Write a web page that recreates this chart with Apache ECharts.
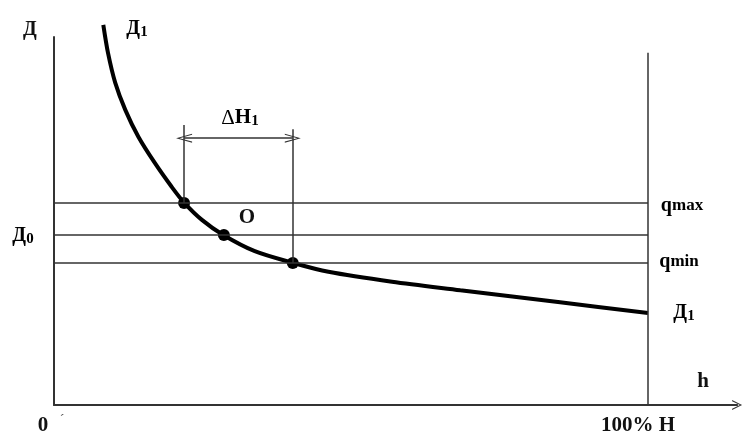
<!DOCTYPE html>
<html>
<head>
<meta charset="utf-8">
<script src="https://cdn.jsdelivr.net/npm/echarts@6/dist/echarts.min.js"></script>
<style>
  html,body{margin:0;padding:0;background:#fff;}
  #main{width:743px;height:439px;}
</style>
</head>
<body>
<div id="main"></div>
<script>
// curve Д1 (h in % of H, Д in arbitrary units)
var curveX = [8.3, 9.1, 10.3, 12.0, 14.2, 17.0, 19.8, 21.9, 24.9, 28.5, 33.8, 40.3, 46.2, 56.9, 68.4, 85.2, 100];
var curveY = [103.3, 95.6, 87.6, 80.2, 72.9, 65.7, 59.3, 55.0, 50.3, 46.2, 41.8, 38.6, 36.2, 33.5, 31.2, 27.9, 25.0];
// levels qmax, Д0, qmin
var levelY = [54.9, 46.2, 38.6];
// intersection points
var dotX = [21.9, 28.6, 40.2];
var dotY = [54.9, 46.2, 38.6];
// ΔH1 bracket
var bracketX = [21.9, 40.2];
var bracketTop = [76.1, 74.9];
var bracketY = 72.5;
// right border at 100% H
var fullH = 100;
var fullHTop = 95.7;

var ink = "#111";
var serif = "Liberation Serif";
var chevron = "path://M0,10 L5,0 L10,10 L8.8,10 L5,2.2 L1.2,10 Z";

var curveData = curveX.map(function(x, i){ return [x, curveY[i]]; });
var dotData = dotX.map(function(x, i){ return [x, dotY[i]]; });

var lines = [];
levelY.forEach(function(y){
	lines.push([{coord:[0, y]}, {coord:[fullH, y]}]);
});
lines.push([{coord:[bracketX[0], dotY[0]]}, {coord:[bracketX[0], bracketTop[0]]}]);
lines.push([{coord:[bracketX[1], dotY[2]]}, {coord:[bracketX[1], bracketTop[1]]}]);
lines.push([{coord:[fullH, 0]}, {coord:[fullH, fullHTop]}]);

var bigD = {a:{fontFamily:serif, fontWeight:"bold", fontSize:20, color:ink},
	s:{fontFamily:serif, fontWeight:"bold", fontSize:15, color:ink, padding:[6,0,0,0]}};
var qRich = {a:{fontFamily:serif, fontWeight:"bold", fontSize:20, color:ink},
	s:{fontFamily:serif, fontWeight:"bold", fontSize:17, color:ink}};
var dhRich = {d:{fontFamily:serif, fontSize:21, color:ink},
	a:{fontFamily:serif, fontWeight:"bold", fontSize:21, color:ink},
	s:{fontFamily:serif, fontWeight:"bold", fontSize:15, color:ink, padding:[6,0,0,0]}};
function plain(x, y, text, size){
	return {type:"text", x:x, y:y, style:{text:text, font:"bold " + size + "px '" + serif + "'", fill:ink, align:"center", verticalAlign:"middle"}};
}
function rich(x, y, text, r){
	return {type:"text", x:x, y:y, style:{text:text, rich:r, align:"center", verticalAlign:"middle"}};
}

var chart = echarts.init(document.getElementById("main"));
chart.setOption({
	animation: false,
	grid: {left: 54, right: 5.9, top: 37, bottom: 34},
	xAxis: {
		type: "value", min: 0, max: 115,
		axisLine: {show: true, symbol: ["none", chevron], symbolSize: [10, 14],
			lineStyle: {color: "#333", width: 2}},
		axisTick: {show: false}, axisLabel: {show: false}, splitLine: {show: false}
	},
	yAxis: {
		type: "value", min: 0, max: 100,
		axisLine: {show: true, lineStyle: {color: "#333", width: 2}},
		axisTick: {show: false}, axisLabel: {show: false}, splitLine: {show: false}
	},
	series: [
		{
			type: "line", data: curveData, smooth: 0.3,
			showSymbol: false, clip: false,
			lineStyle: {color: "#000", width: 4},
			markLine: {
				silent: true, symbol: "none", label: {show: false},
				lineStyle: {color: "#333", width: 1.5, type: "solid"},
				data: lines
			},
			z: 3
		},
		{
			type: "line", data: [],
			markLine: {
				silent: true, symbol: [chevron, chevron], symbolSize: [9, 16],
				label: {show: false},
				lineStyle: {color: "#333", width: 1.5, type: "solid"},
				data: [[{coord:[bracketX[0], bracketY]}, {coord:[bracketX[1], bracketY]}]]
			}
		},
		{
			type: "scatter", data: dotData, symbolSize: 12,
			itemStyle: {color: "#000", opacity: 1}, z: 4
		}
	],
	graphic: [
		plain(30, 30, "Д", 20),
		rich(137, 29, "{a|Д}{s|1}", bigD),
		rich(240, 118, "{d|Δ}{a|H}{s|1}", dhRich),
		plain(247, 218, "O", 21),
		rich(23, 236, "{a|Д}{s|0}", bigD),
		rich(682, 206, "{a|q}{s|max}", qRich),
		rich(679, 262, "{a|q}{s|min}", qRich),
		rich(684, 313, "{a|Д}{s|1}", bigD),
		plain(703, 382, "h", 21),
		plain(43, 426, "0", 21),
		{type:"text", x:62, y:420, style:{text:"´", font:"14px '" + serif + "'", fill:"#555", align:"center", verticalAlign:"middle"}},
		plain(638, 426, "100% H", 21)
	]
});
</script>
</body>
</html>
